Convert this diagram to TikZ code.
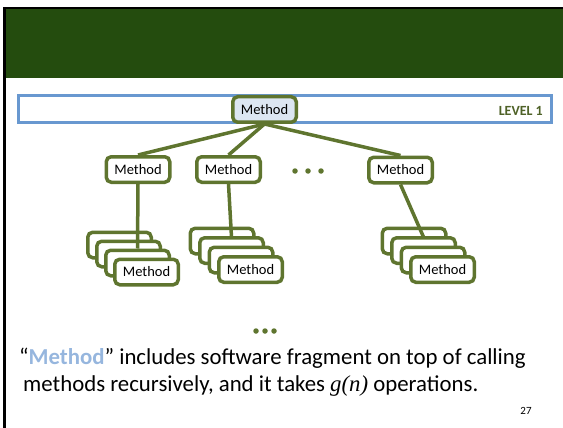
\documentclass[tikz,border=0pt]{standalone}
\usepackage{fontspec}
\setmainfont{Carlito}
\newfontfamily\mathserif{Liberation Serif}
\definecolor{headgreen}{RGB}{36,76,14}
\definecolor{olive}{RGB}{95,117,47}
\definecolor{levelgreen}{RGB}{79,98,40}
\definecolor{barblue}{RGB}{104,152,208}
\definecolor{boxfill}{RGB}{220,230,242}
\definecolor{quoteblue}{RGB}{150,182,222}
\tikzset{
  methodbox/.style={draw=olive, line width=3.5pt, rounded corners=5pt, fill=white,
    minimum width=63.5pt, minimum height=25.5pt, inner sep=0pt,
    font=\fontsize{14.5}{16}\selectfont},
  link/.style={draw=olive, line width=3.5pt},
  dot/.style={circle, fill=olive, inner sep=0pt, minimum size=5.5pt},
  caption/.style={anchor=base west, inner sep=0pt, font=\fontsize{22.8}{27}\selectfont},
}
\begin{document}
\begin{tikzpicture}[x=1pt, y=-1pt]
\useasboundingbox (0,0) rectangle (563,428);
% slide frame and title band
\fill[headgreen] (5,9) rectangle (563,78);
\draw[black, line width=2.5pt] (4.3,428) -- (4.3,8) -- (563,8);

% level-1 bar
\draw[barblue, line width=3pt, fill=white] (18.5,95.5) rectangle (551.5,122.5);
\node[anchor=east, inner sep=0pt, font=\fontsize{14}{15}\selectfont\bfseries, text=levelgreen] (lvl) at (543,110.5) {LEVEL 1};

% root
\node[methodbox, fill=boxfill] (root) at (264.5,109.5) {Method};

% level-2 methods
\node[methodbox] (m1) at (138,169.5) {Method};
\node[methodbox] (m2) at (228.5,169.5) {Method};
\node[methodbox] (m3) at (400.5,170) {Method};
\node[dot] (d1) at (295,171) {};
\node[dot] (d2) at (308,171) {};
\node[dot] (d3) at (321,171) {};

\draw[link] (root.south) -- (m1.north);
\draw[link] (root.south) -- (m2.north);
\draw[link] (root.south) -- (m3.north);

% stack under m1
\node[methodbox] (s1a) at (119.5,245) {};
\node[methodbox] (s1b) at (128.5,254) {};
\draw[link] (m1.south) -- (137.5,248.5) coordinate (s1end);
\node[methodbox] (s1c) at (137.5,263) {};
\node[methodbox] (s1d) at (146.5,272) {Method};

% stack under m2
\node[methodbox] (s2a) at (222,241) {};
\draw[link] (m2.south) -- (231.5,237) coordinate (s2end);
\node[methodbox] (s2b) at (231.5,250.5) {};
\node[methodbox] (s2c) at (241,260) {};
\node[methodbox] (s2d) at (250.5,269.5) {Method};

% stack under m3
\node[methodbox] (s3a) at (414,241) {};
\draw[link] (m3.south) -- (423.5,237) coordinate (s3end);
\node[methodbox] (s3b) at (423.5,250.5) {};
\node[methodbox] (s3c) at (433,260) {};
\node[methodbox] (s3d) at (442.5,269.5) {Method};

% trailing dots
\node[dot] (e1) at (256,331) {};
\node[dot] (e2) at (265,331) {};
\node[dot] (e3) at (274,331) {};

% caption
\node[caption] (cap1) at (19,364)
  {“{\bfseries\color{quoteblue}Method}” includes software fragment on top of calling};
\node[caption] (cap2) at (23,391)
  {methods recursively, and it takes {\mathserif\itshape g(n)} operations.};

\node[font=\fontsize{11}{13}\selectfont] (pg) at (526,411) {27};
\end{tikzpicture}
\end{document}
